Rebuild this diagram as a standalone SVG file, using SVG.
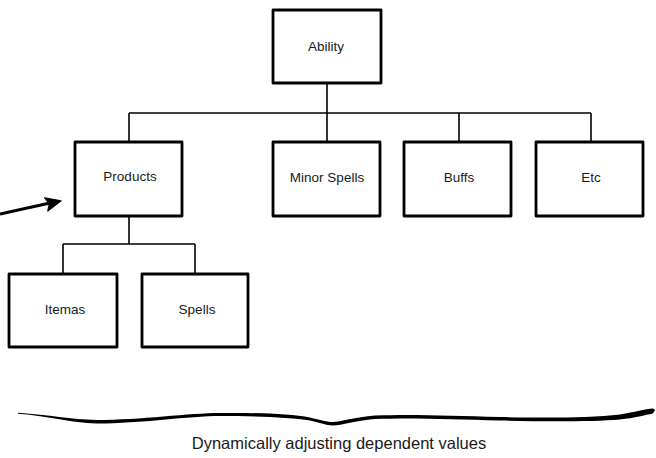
<svg xmlns="http://www.w3.org/2000/svg" width="656" height="458" viewBox="0 0 656 458">
<style>
.box{fill:#fff;stroke:#000;stroke-width:2.8;stroke-linejoin:round}
.lbl{font-family:"Liberation Sans",Arial,sans-serif;font-size:13.5px;fill:#1a1a1a;text-anchor:middle;dominant-baseline:central}
.con{fill:none;stroke:#000;stroke-width:1.6}
</style>
<rect width="656" height="458" fill="#fff"/>
<g id="connectors">
<path class="con" d="M327,83 V113 M129,113 H591 M129,113 V142 M327,113 V142 M459,113 V142 M591,113 V142"/>
<path class="con" d="M129,216 V244 M63,244 H195 M63,244 V274 M195,244 V274"/>
<path d="M0,214 L50,203" fill="none" stroke="#000" stroke-width="3"/>
<path d="M61,200.8 L47.8,211 L49.5,203.5 L44.6,197.8 Z" fill="#000" stroke="#000" stroke-width="1.2" stroke-linejoin="round"/>
</g>
<g id="ability"><rect class="box" x="273" y="10" width="108" height="73"/><text class="lbl" x="326" y="46">Ability</text></g>
<g id="products"><rect class="box" x="75" y="142" width="107" height="74"/><text class="lbl" x="130" y="176">Products</text></g>
<g id="minor-spells"><rect class="box" x="273" y="142" width="107" height="74"/><text class="lbl" x="327" y="177">Minor Spells</text></g>
<g id="buffs"><rect class="box" x="404" y="142" width="107" height="74"/><text class="lbl" x="459" y="177">Buffs</text></g>
<g id="etc"><rect class="box" x="536" y="142" width="107" height="74"/><text class="lbl" x="591" y="177">Etc</text></g>
<g id="itemas"><rect class="box" x="9" y="274" width="108" height="73"/><text class="lbl" x="65" y="309">Itemas</text></g>
<g id="spells"><rect class="box" x="142" y="274" width="106" height="73"/><text class="lbl" x="197" y="309">Spells</text></g>
<g id="brace">
<path fill="#000" d="M18,412.8 C50,415 70,419.5 97,420 C140,420 190,413 220,413 C250,412.5 290,413.5 310,417.5 C320,420 328,422 333,422 C340,422 355,417 375,415.5 C410,414 450,415.5 500,417 C540,418 590,418 620,414.5 C635,412 645,409 653,408.5 L655,410 L653,413.5 C645,415 635,418 620,419.5 C590,422 540,421.5 500,420.5 C450,419 410,417.5 375,419 C355,420.5 342,425.5 333,425.5 C326,425.5 318,422 310,420.5 C290,417 250,416 220,416 C190,416 140,423.5 97,423.5 C70,423 50,416 18,413.8 Z"/>
<text x="339" y="443" font-family="'Liberation Sans',Arial,sans-serif" font-size="16.5" fill="#1a1a1a" text-anchor="middle" dominant-baseline="central">Dynamically adjusting dependent values</text>
</g>
</svg>
